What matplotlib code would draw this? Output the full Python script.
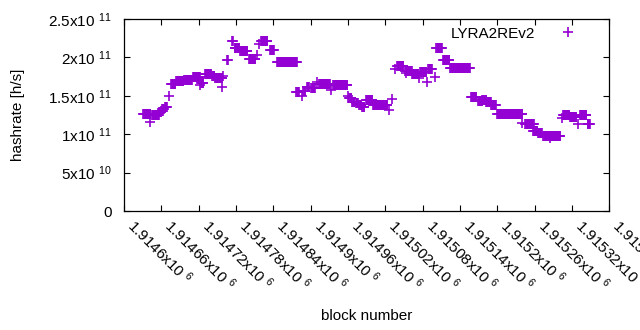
import numpy as np
import matplotlib
matplotlib.use("Agg")
import matplotlib.pyplot as plt
from matplotlib.lines import Line2D

plt.rcParams['font.family'] = ['Liberation Sans', 'DejaVu Sans']
plt.rcParams['mathtext.fontset'] = 'custom'
plt.rcParams['mathtext.rm'] = 'Liberation Sans'
plt.rcParams['mathtext.it'] = 'Liberation Sans'

# --- Data: runs of consecutive blocks sharing one hashrate estimate (x1e9 h/s) ---
run_start = [1914631, 1914642, 1914645, 1914656, 1914661, 1914666, 1914672, 1914676,
             1914684, 1914697, 1914711, 1914722, 1914724, 1914730, 1914742, 1914746,
             1914758, 1914759, 1914766, 1914774, 1914778, 1914787, 1914801, 1914814,
             1914817, 1914820, 1914835, 1914846, 1914877, 1914886, 1914888, 1914894,
             1914901, 1914910, 1914914, 1914933, 1914936, 1914960, 1914962, 1914967,
             1914973, 1914978, 1914983, 1914989, 1915000, 1915026, 1915031, 1915036,
             1915039, 1915053, 1915052, 1915063, 1915074, 1915076, 1915087, 1915089,
             1915100, 1915102, 1915113, 1915124, 1915158, 1915169, 1915176, 1915182,
             1915190, 1915200, 1915240, 1915245, 1915258, 1915266, 1915274, 1915280,
             1915285, 1915304, 1915306, 1915317, 1915330, 1915333, 1915345]
run_end = [1914642, 1914642, 1914656, 1914660, 1914664, 1914669, 1914672, 1914682,
           1914695, 1914709, 1914722, 1914722, 1914727, 1914740, 1914745, 1914758,
           1914758, 1914759, 1914767, 1914775, 1914785, 1914798, 1914811, 1914814,
           1914817, 1914830, 1914841, 1914878, 1914881, 1914886, 1914891, 1914897,
           1914907, 1914910, 1914931, 1914933, 1914959, 1914960, 1914965, 1914970,
           1914976, 1914981, 1914986, 1914999, 1915023, 1915026, 1915031, 1915036,
           1915049, 1915053, 1915062, 1915073, 1915074, 1915086, 1915087, 1915095,
           1915100, 1915111, 1915123, 1915156, 1915166, 1915176, 1915182, 1915190,
           1915198, 1915240, 1915240, 1915259, 1915264, 1915272, 1915279, 1915301,
           1915285, 1915304, 1915316, 1915327, 1915330, 1915343, 1915349]
run_value = [126.3, 115.9, 125.0, 128.9, 132.8, 135.4, 149.7, 165.4,
             169.3, 170.6, 174.5, 164.0, 166.7, 178.4, 175.8, 173.2,
             161.4, 175.8, 196.6, 221.3, 212.2, 208.3, 197.9, 203.1,
             217.4, 221.3, 209.6, 194.0, 154.9, 149.7, 156.2, 161.4,
             160.1, 168.0, 165.4, 157.5, 164.0, 149.7, 147.1, 141.9,
             140.6, 138.0, 135.4, 144.5, 138.0, 131.5, 145.8, 184.9,
             188.8, 179.7, 182.3, 178.4, 173.2, 181.0, 167.9, 184.9,
             174.5, 212.2, 196.6, 185.9, 148.4, 143.2, 144.5, 141.9,
             138.0, 126.3, 114.6, 113.3, 104.2, 101.6, 97.7, 97.7,
             95.0, 121.1, 125.0, 122.4, 113.3, 125.0, 113.3]

xtick_values = [1914600, 1914660, 1914720, 1914780, 1914840, 1914900, 1914960,
                1915020, 1915080, 1915140, 1915200, 1915260, 1915320, 1915380]
xtick_labels = ["1.9146x10", "1.91466x10", "1.91472x10", "1.91478x10", "1.91484x10",
                "1.9149x10", "1.91496x10", "1.91502x10", "1.91508x10", "1.91514x10",
                "1.9152x10", "1.91526x10", "1.91532x10", "1.91538x10"]
ytick_values = [0, 5e10, 1e11, 1.5e11, 2e11, 2.5e11]
ytick_labels = ["0", "5x10 $^{10}$", "1x10 $^{11}$", "1.5x10 $^{11}$",
                "2x10 $^{11}$", "2.5x10 $^{11}$"]

# expand runs to one point per block
blocks = np.concatenate([np.arange(s, e + 1) for s, e in zip(run_start, run_end)])
hashrate = np.concatenate([np.full(e - s + 1, v * 1e9)
                           for s, e, v in zip(run_start, run_end, run_value)])

color = "#9400D3"
fs = 11

fig = plt.figure(figsize=(6.4, 3.3), dpi=100)
ax = fig.add_axes([0.194, 0.3606, 0.758, 0.5818])

ax.plot(blocks, hashrate, linestyle="none", marker="+", markersize=7,
        markeredgewidth=1.2, color=color)

ax.set_xlim(1914600, 1915380)
ax.set_ylim(0, 2.5e11)

ax.set_xticks(xtick_values)
ax.set_xticklabels([l + " $^{6}$" for l in xtick_labels], rotation=-45,
                   ha="left", va="bottom", rotation_mode="anchor", fontsize=fs)
ax.set_yticks(ytick_values)
ax.set_yticklabels(ytick_labels, fontsize=fs)

ax.tick_params(axis="both", direction="in", length=4, width=0.8,
               top=True, right=True, colors="black")
ax.tick_params(axis="y", pad=9)
ax.tick_params(axis="x", pad=13)
for sp in ax.spines.values():
    sp.set_linewidth(0.9)

ax.set_xlabel("block number", fontsize=fs, labelpad=11)
ax.set_ylabel("hashrate [h/s]", fontsize=fs, labelpad=17)

handle = Line2D([], [], linestyle="none", marker="+", markersize=7,
                markeredgewidth=1.2, color=color)
ax.legend([handle], ["LYRA2REv2"], loc="upper right", frameon=False,
          markerfirst=False, fontsize=fs, handlelength=2.5, handletextpad=0.9,
          borderaxespad=0.1, bbox_to_anchor=(0.97, 1.0))

fig.savefig("out.png", dpi=100)
